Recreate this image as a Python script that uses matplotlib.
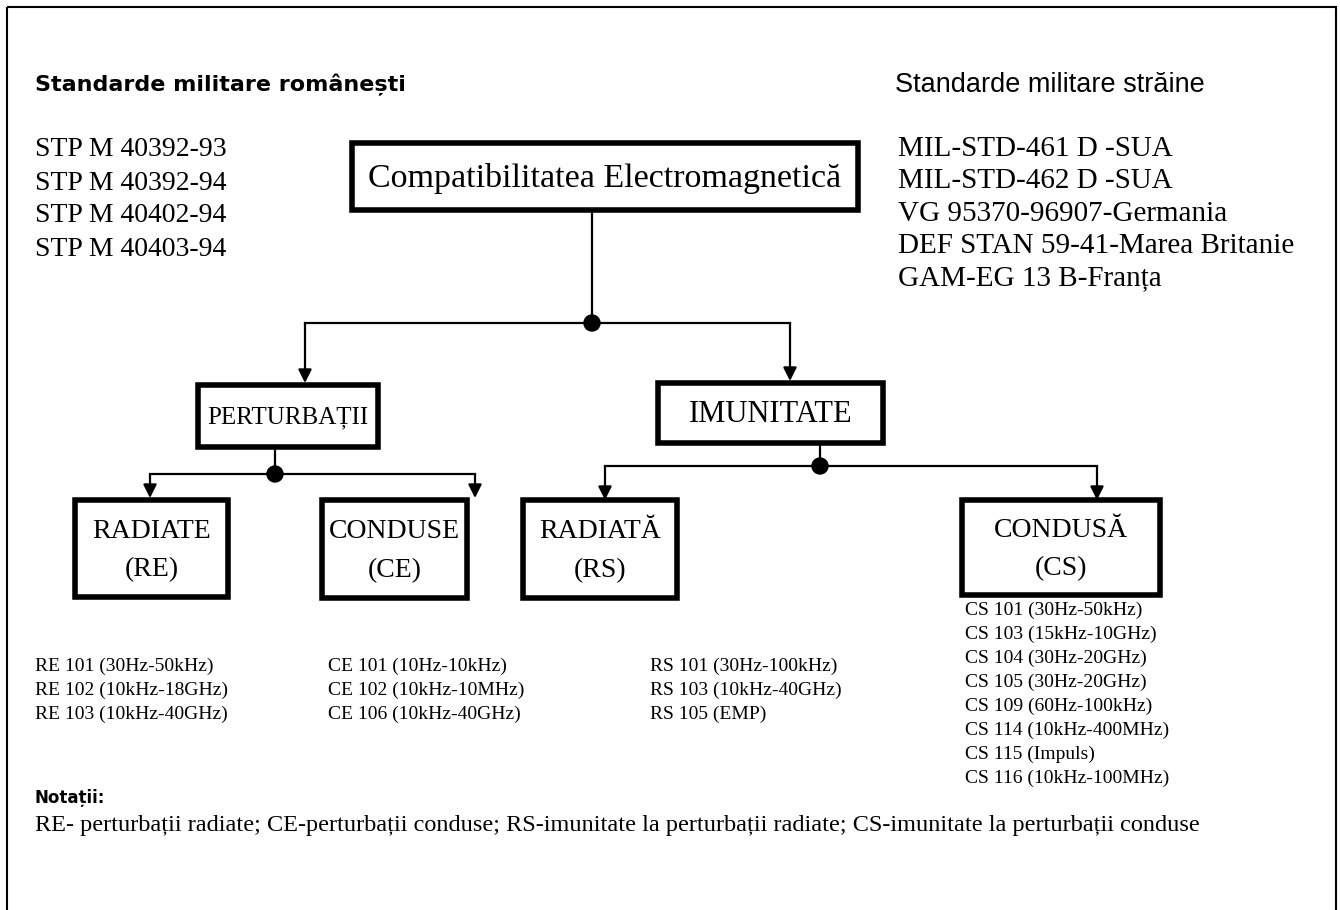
import matplotlib
matplotlib.use("Agg")
import matplotlib.pyplot as plt
from matplotlib.patches import Rectangle, Circle

# texts of the diagram
ro_title = "Standarde militare românești"
ro_std = ["STP M 40392-93", "STP M 40392-94", "STP M 40402-94", "STP M 40403-94"]
fo_title = "Standarde militare străine"
fo_std = ["MIL-STD-461 D -SUA", "MIL-STD-462 D -SUA", "VG 95370-96907-Germania",
          "DEF STAN 59-41-Marea Britanie", "GAM-EG 13 B-Franța"]
root = "Compatibilitatea Electromagnetică"
level1 = ["PERTURBAȚII", "IMUNITATE"]
level2 = ["RADIATE\n(RE)", "CONDUSE\n(CE)", "RADIATĂ\n(RS)", "CONDUSĂ\n(CS)"]
re_list = ["RE 101 (30Hz-50kHz)", "RE 102 (10kHz-18GHz)", "RE 103 (10kHz-40GHz)"]
ce_list = ["CE 101 (10Hz-10kHz)", "CE 102 (10kHz-10MHz)", "CE 106 (10kHz-40GHz)"]
rs_list = ["RS 101 (30Hz-100kHz)", "RS 103 (10kHz-40GHz)", "RS 105 (EMP)"]
cs_list = ["CS 101 (30Hz-50kHz)", "CS 103 (15kHz-10GHz)", "CS 104 (30Hz-20GHz)",
           "CS 105 (30Hz-20GHz)", "CS 109 (60Hz-100kHz)", "CS 114 (10kHz-400MHz)",
           "CS 115 (Impuls)", "CS 116 (10kHz-100MHz)"]
note_title = "Notații:"
note = ("RE- perturbații radiate; CE-perturbații conduse; RS-imunitate la perturbații radiate; "
        "CS-imunitate la perturbații conduse")

serif = "Liberation Serif"

fig = plt.figure(figsize=(13.4, 9.1), dpi=100)
ax = fig.add_axes([0, 0, 1, 1])
ax.set_xlim(0, 1340)
ax.set_ylim(910, 0)
ax.axis("off")

# outer frame
ax.add_patch(Rectangle((7, 7), 1329, 950, fill=False, lw=1.5, ec="black"))


def box(x0, y0, x1, y1, label, size, ls=1.2):
    ax.add_patch(Rectangle((x0, y0), x1 - x0, y1 - y0, fill=False, lw=4, ec="black"))
    ax.text((x0 + x1) / 2, (y0 + y1) / 2 + 2, label, ha="center", va="center",
            family=serif, fontsize=size, linespacing=ls)


def arrow(x, y0, y1):
    ax.annotate("", xy=(x, y1), xytext=(x, y0),
                arrowprops=dict(arrowstyle="-|>", lw=1.6, color="black",
                                mutation_scale=20, shrinkA=0, shrinkB=0))


def branch(xc, ytop, yh, xl, xr, yend_l, yend_r):
    ax.plot([xc, xc], [ytop, yh], color="black", lw=1.6)
    ax.plot([xl, xr], [yh, yh], color="black", lw=1.6)
    ax.add_patch(Circle((xc, yh), 8, color="black"))
    arrow(xl, yh, yend_l)
    arrow(xr, yh, yend_r)


# headings
ax.text(35, 85, ro_title, family="DejaVu Sans", weight="bold", fontsize=16, va="center")
ax.text(895, 85, fo_title, family=["Liberation Sans Narrow", "Liberation Sans"],
        fontsize=19.5, va="center")

for i, s in enumerate(ro_std):
    ax.text(35, 150 + i * 33, s, family=serif, fontsize=20, va="center")
for i, s in enumerate(fo_std):
    ax.text(898, 149 + i * 32.3, s, family=serif, fontsize=21, va="center")

# boxes
box(352, 143, 858, 210, root, 24.5)
box(198, 385, 378, 447, level1[0], 18)
box(658, 383, 883, 443, level1[1], 22)
box(75, 500, 228, 597, level2[0], 20, 1.7)
box(322, 500, 467, 598, level2[1], 20, 1.7)
box(523, 500, 677, 598, level2[2], 20, 1.7)
box(962, 500, 1160, 595, level2[3], 20, 1.7)

# connections
branch(592, 210, 323, 305, 790, 383, 381)
branch(275, 450, 474, 150, 475, 498, 498)
branch(820, 443, 466, 605, 1097, 500, 500)

# standards under each box
for xs, items in [(35, re_list), (328, ce_list), (650, rs_list)]:
    for i, s in enumerate(items):
        ax.text(xs, 666 + i * 24, s, family=serif, fontsize=14, va="center")
for i, s in enumerate(cs_list):
    ax.text(965, 610 + i * 24, s, family=serif, fontsize=14, va="center")

# notes
ax.text(35, 798, note_title, family="DejaVu Sans", weight="bold", fontsize=12, va="center")
ax.text(35, 826, note, family=serif, fontsize=17.5, va="center")

fig.savefig("out.png", dpi=100)
